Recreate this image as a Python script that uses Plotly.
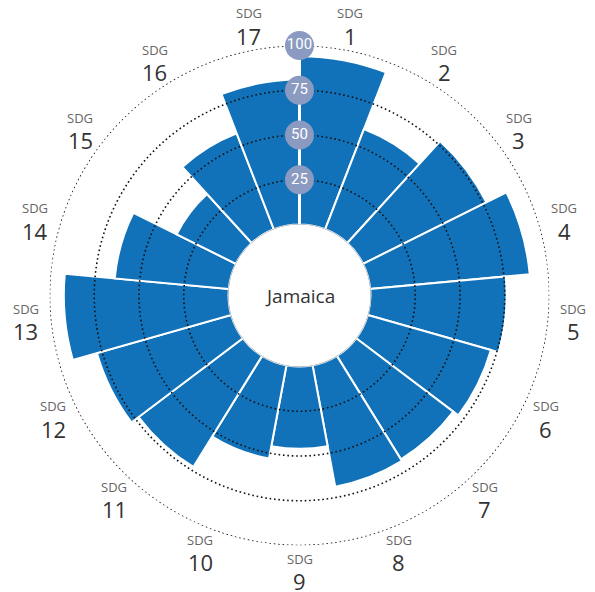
import numpy as np
import plotly.graph_objects as go

# ---- data ----
goals = [f"{i}" for i in range(1, 18)]
scores = [94, 60, 77, 89.5, 76, 71.5, 68, 69, 46, 53, 73, 78, 92, 64, 37, 57.5, 81]
ring_values = [25, 50, 75, 100]
ring_labels = ["25", "50", "75", "100"]
country = "Jamaica"

# ---- style ----
W, H = 595, 592
PAGE_OFF = 8.0  # default body margin of the html page
CX, CY, R = 299.5 - PAGE_OFF, 295.5 - PAGE_OFF, 250.0
HOLE = 71.0 / 250.0
BAR_COLOR = "#1172b9"
BADGE_COLOR = "#8a9ac0"

n = len(goals)
step = 360.0 / n
theta_centers = [(i + 0.5) * step for i in range(n)]

fig = go.Figure()

fig.add_trace(go.Barpolar(
    r=scores, theta=theta_centers, width=[step] * n,
    marker=dict(color=BAR_COLOR, line=dict(color="white", width=2)),
    hoverinfo="skip", showlegend=False,
))

# dotted reference circles drawn above bars
circle_theta = np.linspace(0, 360, 721)
for rv in ring_values:
    fig.add_trace(go.Scatterpolar(
        r=[rv] * len(circle_theta), theta=circle_theta, mode="lines",
        line=dict(color="#111111", width=1.6, dash="1.6px,2.8px"),
        hoverinfo="skip", showlegend=False,
    ))

# hole outline
fig.add_trace(go.Scatterpolar(
    r=[0] * len(circle_theta), theta=circle_theta, mode="lines",
    line=dict(color="#9a9a9a", width=1),
    hoverinfo="skip", showlegend=False,
))

# white radial axis line
fig.add_trace(go.Scatterpolar(
    r=[0, 100], theta=[0, 0], mode="lines",
    line=dict(color="white", width=3),
    hoverinfo="skip", showlegend=False,
))

# radial badges
fig.add_trace(go.Scatterpolar(
    r=ring_values, theta=[0] * len(ring_values), mode="markers+text",
    marker=dict(color=BADGE_COLOR, size=29, line=dict(width=0)),
    text=ring_labels, textposition="middle center",
    textfont=dict(color="white", size=15, family="Roboto"),
    hoverinfo="skip", showlegend=False,
))

annotations = []
LR = 275.0
for i, g in enumerate(goals):
    a = np.deg2rad(theta_centers[i])
    px = CX + LR * np.sin(a)
    py = CY - LR * np.cos(a)
    annotations.append(dict(
        x=px / W, y=1 - (py - 12) / H, xref="paper", yref="paper",
        text="SDG", showarrow=False, xanchor="center", yanchor="middle",
        font=dict(size=13, color="#666666", family="Open Sans"),
    ))
    annotations.append(dict(
        x=px / W, y=1 - (py + 10.5) / H, xref="paper", yref="paper",
        text=g, showarrow=False, xanchor="center", yanchor="middle",
        font=dict(size=22, color="#333333", family="Open Sans"),
    ))

annotations.append(dict(
    x=CX / W, y=1 - CY / H, xref="paper", yref="paper", text=country,
    showarrow=False, xanchor="center", yanchor="middle",
    font=dict(size=19, color="#333333", family="Open Sans"),
))

fig.update_layout(
    width=W, height=H,
    margin=dict(l=0, r=0, t=0, b=0),
    paper_bgcolor="white", plot_bgcolor="white",
    showlegend=False,
    annotations=annotations,
    polar=dict(
        domain=dict(x=[(CX - R) / W, (CX + R) / W], y=[1 - (CY + R) / H, 1 - (CY - R) / H]),
        hole=HOLE,
        bgcolor="white",
        radialaxis=dict(range=[0, 100], showgrid=False, showline=False,
                        showticklabels=False, ticks=""),
        angularaxis=dict(rotation=90, direction="clockwise", showgrid=False,
                         showline=False, showticklabels=False, ticks=""),
    ),
)

fig.write_html("out.html")
